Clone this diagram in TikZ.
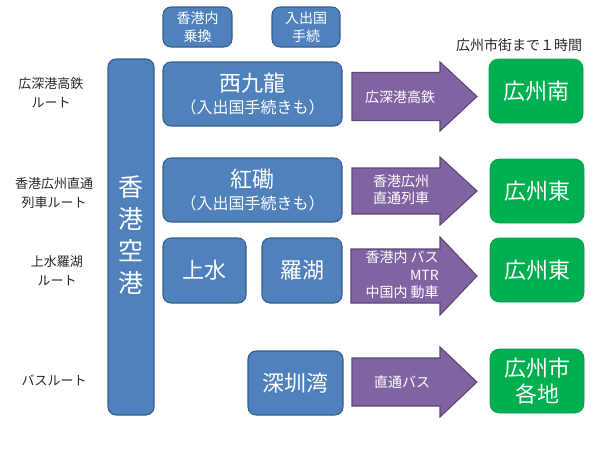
\documentclass[tikz,border=0pt]{standalone}
\usepackage{fontspec}
\setmainfont{Noto Sans CJK JP}
\definecolor{bfill}{HTML}{4F81BD}
\definecolor{bline}{HTML}{385D8A}
\definecolor{pfill}{HTML}{8064A2}
\definecolor{pline}{HTML}{5C4776}
\definecolor{gfill}{HTML}{00B050}
\definecolor{gline}{HTML}{0A9E4A}
\definecolor{lbltext}{HTML}{262626}
\newcommand\fsz[2]{\fontsize{#1}{#2}\selectfont}
\begin{document}
\begin{tikzpicture}[x=0.75pt,y=-0.75pt,
  bbox/.style={draw=bline,fill=bfill,rounded corners=6pt,text=white,align=center,inner sep=0pt,line width=0.8pt},
  gbox/.style={draw=gline,fill=gfill,rounded corners=7pt,text=white,align=center,inner sep=0pt,line width=0.6pt,
    minimum width=70.5pt,minimum height=48pt,font=\fsz{16.5}{20}},
  parr/.style={draw=pline,fill=pfill,line width=0.8pt,line join=miter},
  atext/.style={text=white,align=center,inner sep=0pt,font=\fsz{10.5}{13}},
  lbl/.style={text=lbltext,align=center,inner sep=0pt,font=\fsz{9.75}{14}}]
\useasboundingbox (0,0) rectangle (600,450);

% small top boxes
\node[bbox,minimum width=51.75pt,minimum height=30pt,font=\fsz{10.5}{13.5}] (s1) at (197.5,27) {香港内\\乗換};
\node[bbox,minimum width=51pt,minimum height=30pt,font=\fsz{10.5}{13.5}] (s2) at (306,27) {入出国\\手続};
\node[text=lbltext,inner sep=0pt,font=\fsz{10.5}{13}] (note) at (519,45) {広州市街まで１時間};

% airport bar
\node[bbox,minimum width=34.5pt,minimum height=267pt] (air) at (131,237) {};
\node[text=white,align=center,inner sep=0pt,font=\fsz{18.75}{24}] (airt) at (131,235) {香\\港\\空\\港};

% route labels
\node[lbl] (l1) at (51,93) {広深港高鉄\\ルート};
\node[lbl] (l2) at (54,193) {香港広州直通\\列車ルート};
\node[lbl] (l3) at (57,271) {上水羅湖\\ルート};
\node[lbl] (l4) at (54,380) {バスルート};

% blue station boxes
\node[bbox,minimum width=134.25pt,minimum height=48pt] (xk) at (252.5,94)
  {{\fsz{16.5}{20}西九龍}\\[5pt]{\fsz{12}{16}（入出国手続きも）}};
\node[bbox,minimum width=134.25pt,minimum height=48pt] (hh) at (252.5,190)
  {{\fsz{16.5}{20}紅磡}\\[5pt]{\fsz{12}{16}（入出国手続きも）}};
\node[bbox,minimum width=62.25pt,minimum height=48.75pt,font=\fsz{16.5}{20}] (ss) at (204.5,270.5) {上水};
\node[bbox,minimum width=60pt,minimum height=48.75pt,font=\fsz{16.5}{20}] (lw) at (302,270.5) {羅湖};
\node[bbox,minimum width=71.25pt,minimum height=48pt,font=\fsz{16.5}{20}] (sz) at (295.5,383) {深圳湾};

% arrows
\draw[parr] (352,72.5) -- (440,72.5) -- (440,62) -- (477,96.5) -- (440,131) -- (440,120.5) -- (352,120.5) -- cycle;
\draw[parr] (352,168) -- (440,168) -- (440,157) -- (477,191) -- (440,225) -- (440,214) -- (352,214) -- cycle;
\draw[parr] (351,249) -- (440,249) -- (440,237) -- (477,276) -- (440,315) -- (440,303) -- (351,303) -- cycle;
\draw[parr] (352,358) -- (440,358) -- (440,347) -- (477,382) -- (440,417) -- (440,406) -- (352,406) -- cycle;

\node[atext] (a1) at (400,97) {広深港高鉄};
\node[atext] (a2) at (401,190) {香港広州\\直通列車};
\node[atext,anchor=east,align=right] (a3) at (439,275) {香港内 バス\\MTR\\中国内 動車};
\node[atext] (a4) at (402,382) {直通バス};

% green destinations
\node[gbox] (g1) at (536,91) {広州南};
\node[gbox] (g2) at (537,191) {広州東};
\node[gbox] (g3) at (537,270) {広州東};
\node[gbox,font=\fsz{16.5}{19.5}] (g4) at (537,381) {広州市\\各地};
\end{tikzpicture}
\end{document}
